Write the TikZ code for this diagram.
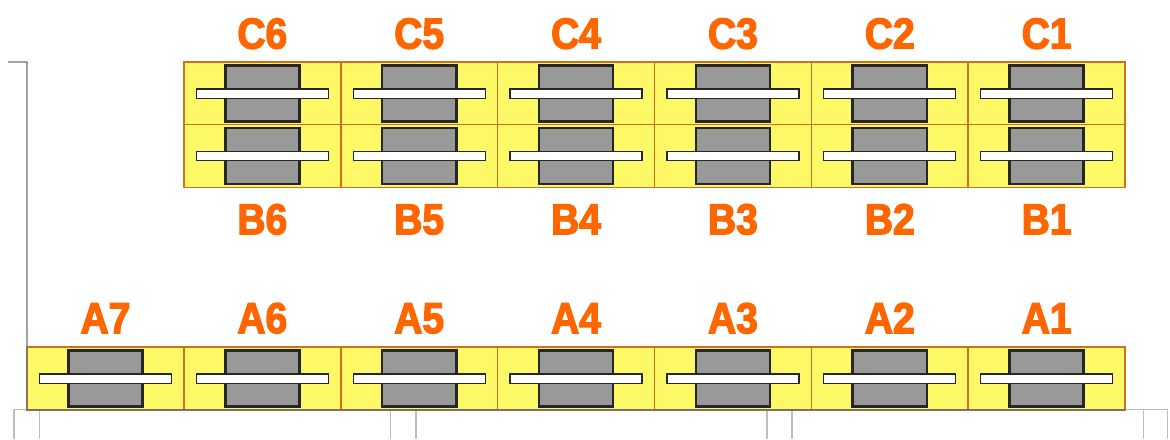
\documentclass[tikz,border=0pt]{standalone}
\usepackage{fontspec}
\setmainfont{Liberation Sans}[BoldFeatures={FakeBold=3,FakeStretch=0.9}]
\usepackage{xcolor}
\usepackage{tikz}
\usetikzlibrary{positioning,calc}
\definecolor{SeatYellow}{HTML}{FDF966}
\definecolor{SeatEdge}{HTML}{D0701E}
\definecolor{TagOrange}{HTML}{FF6600}
\definecolor{BlockGray}{HTML}{999999}
\definecolor{FrameGray}{HTML}{707070}
\definecolor{RailGray}{HTML}{BDBDBD}

\begin{document}
\begin{tikzpicture}[x=0.75pt,y=-0.75pt,
  cell/.style={draw=SeatEdge,fill=SeatYellow,line width=1.2pt,inner sep=0pt,outer sep=0pt,minimum width=117.7pt,minimum height=47pt},
  block/.style={draw=black!85,fill=BlockGray,line width=2pt,inner sep=0pt,outer sep=0pt,minimum width=55.6pt,minimum height=41.8pt},
  bar/.style={draw=black!85,fill=white,line width=1pt,inner sep=0pt,outer sep=0pt,minimum width=99pt,minimum height=7pt},
  tag/.style={text=TagOrange,font=\fontsize{32.5pt}{32.5pt}\selectfont\bfseries,inner sep=0pt,text height=23pt,text depth=0pt},
  frame/.style={draw=FrameGray,line width=1pt},
  rail/.style={draw=RailGray,line width=0.8pt}
]
\useasboundingbox (0,0) rectangle (1170,439);
% lines behind the rows
\coordinate (f1) at (8,62);
\coordinate (f2) at (27,62);
\coordinate (r1) at (14,439);
\coordinate (r2) at (14,409.5);
\coordinate (r3) at (1167.5,409.5);
\coordinate (r4) at (1167.5,439);
\draw[rail] (r1)--(r2)--(r3)--(r4);
\foreach \railx [count=\k] in {39.5,390.5,416,767,792,1143.5}{
  \coordinate (t\k) at (\railx,409.5);
  \coordinate (u\k) at (\railx,439);
  \draw[rail] (t\k)--(u\k);
}
% row A
\foreach \n [count=\i from 0] in {7,6,5,4,3,2,1}{
  \node[cell] (a\n) at ({105.45+\i*156.87},378.5) {};
  \node[block] (ab\n) at (a\n.center) {};
  \node[bar] (as\n) at (a\n.center) {};
  \node[tag,above=10.3pt of a\n] (al\n) {A\n};
}
% rows B and C
\foreach \n [count=\i from 1] in {6,5,4,3,2,1}{
  \node[cell] (c\n) at ({105.45+\i*156.87},93.5) {};
  \node[block] (cb\n) at (c\n.center) {};
  \node[bar] (cs\n) at (c\n.center) {};
  \node[tag,above=10pt of c\n] (cl\n) {C\n};
  \node[cell] (b\n) at ({105.45+\i*156.87},156) {};
  \node[block] (bb\n) at (b\n.center) {};
  \node[bar] (bs\n) at (b\n.center) {};
  \node[tag,below=12pt of b\n] (bl\n) {B\n};
}
% frame over the edge of row A
\draw[frame] (f1)--(f2)--(a7.south west)--(a1.south east);
\end{tikzpicture}
\end{document}
